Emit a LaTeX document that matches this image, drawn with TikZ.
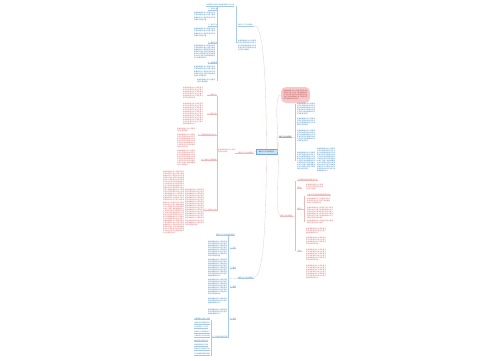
\documentclass[tikz,border=0pt]{standalone}
\usepackage{fontspec}
\newfontfamily\cjk{Noto Sans CJK SC}
\XeTeXlinebreaklocale "zh"
\XeTeXlinebreakskip=0pt plus 0.2pt
\definecolor{tb}{HTML}{3D85C6}
\definecolor{tr}{HTML}{E06666}
\definecolor{td}{HTML}{3C4A5C}
\definecolor{lb}{HTML}{A9CBEA}
\definecolor{lr}{HTML}{F2B8B8}
\definecolor{lm}{HTML}{E8CDCD}
\definecolor{cfill}{HTML}{CFE2F3}
\definecolor{cdraw}{HTML}{6FA8DC}
\definecolor{pfill}{HTML}{F6CACA}
\newcommand\zhc[1]{\ifcase#1 工\or 作\or 学\or 生\or 教\or 育\or 积\or 极\or 认\or 真\or 开\or 展\or 活\or 动\or 提\or 高\or 质\or 量\or 的\or 和\or 班\or 级\or 管\or 理\fi}
\newcommand\mkfill[1]{\gdef\fillstr{}\foreach \ii in {1,...,#1}{\pgfmathtruncatemacro\kk{mod(\ii*7,24)}\xdef\fillstr{\fillstr\zhc{\kk}}}}
\tikzset{
  blkst/.style={inner sep=0pt,font=\cjk\fontsize{2.2}{2.9}\selectfont,align=justify},
  labst/.style={inner sep=0.2pt,font=\cjk\fontsize{2.2}{2.9}\selectfont},
  cnode/.style={draw=cdraw,fill=cfill,line width=0.3pt,minimum width=10.5mm,minimum height=2.6mm,inner sep=0pt,text=td,font=\cjk\fontsize{2.2}{2.9}\selectfont},
  pnode/.style={fill=pfill,rounded corners=2.5mm,minimum width=14.5mm,minimum height=8mm,inner sep=0pt,text=tr!80!black,text width=34pt,align=justify,font=\cjk\fontsize{2.2}{2.9}\selectfont},
  mc/.style={draw=lm,line width=0.45pt},
  bl/.style={draw=lb,line width=0.3pt},
  rl/.style={draw=lr,line width=0.3pt}
}
\newcommand\blk[6][tb]{%
  \pgfmathtruncatemacro\ncpl{#5*0.64}%
  \pgfmathtruncatemacro\nln{max(1,round(#6*0.49))}%
  \pgfmathtruncatemacro\nch{max(2,\ncpl*\nln-\ncpl/3)}%
  \mkfill{\nch}%
  \pgfmathsetmacro\tw{#5*1.4226}%
  \node[blkst,text=#1,text width=\tw pt,anchor=north west] (#2) at (#3,#4) {\fillstr};%
}
\newcommand\lab[5][tb]{%
  \node[labst,text=#1,anchor=base west] (#2) at (#3,#4) {#5};%
  \draw[#1!45,line width=0.25pt] (#2.south west) -- (#2.south east);%
}
\begin{document}
\begin{tikzpicture}[x=0.5mm,y=-0.5mm]
\fill[white] (0,0) rectangle (500,360);
\useasboundingbox (0,0) rectangle (500,360);

% centre
\node[cnode] (C) at (266.5,151.5) {教师个人工作总结范文};

% main labels
\lab{M1}{238}{26}{教师个人工作总结篇一}
\lab[tr]{M2}{238}{153}{教师个人工作总结篇二}
\lab{M3}{238}{278}{教师个人工作总结篇三}
\lab[td]{M5}{279}{137}{教师工作总结篇四}
\lab[tr]{M6}{280}{216}{教师工作总结篇五}
\mkfill{70}
\node[pnode] (P) at (295.5,95) {\fillstr};

% main curves
\draw[mc] (C.north) .. controls (266,60) and (262,25) .. (M1.east);
\draw[mc] (C.west) -- (M2.east);
\draw[mc] (C.south) .. controls (266,240) and (262,277) .. (M3.east);
\draw[mc] (C.east) .. controls (281,151.5) and (272,95) .. (P.west);
\draw[mc] (C.east) .. controls (280,151.5) and (274,136) .. (M5.west);
\draw[mc] (C.east) .. controls (281,151.5) and (274,215) .. (M6.west);

% ---------- branch 1 (blue, top left)
\lab{H1}{206}{5.5}{本学期我认真执行学校教育教学工作计划}
\coordinate (m1t) at (236,6.5);
\coordinate (m1b) at (236,42);
\coordinate (m1j) at (236,26.5);
\draw[bl] (m1t) -- (m1b);
\draw[bl] (M1.south west) -- (m1j);
\blk{b1}{238}{40.5}{18}{10}
\draw[bl] (m1b) -- (b1.west |- m1b);
\coordinate (v1t) at (217,6.5);
\coordinate (v1b) at (217,81);
\draw[bl] (v1t) -- (v1b);
\lab{la}{207.5}{10}{一、思想方面}
\lab{lb1}{207.5}{26}{二、教学工作}
\lab{lc}{207.5}{43}{三、教研工作}
\lab{ld}{207.5}{63}{四、班级管理}
\blk{ba}{194}{12.5}{21}{9}
\blk{bb}{194}{28.5}{21}{9}
\blk{bc}{194}{45}{21}{15}
\blk{bd}{194}{66.5}{21}{10}
\blk{be}{197}{79.5}{18}{4.5}

% ---------- branch 2 (red, left middle)
\blk[tr]{r0}{218}{149.5}{17}{5}
\coordinate (r0t) at (217,95.8);
\coordinate (r0b) at (217,210.8);
\draw[rl] (r0t) -- (r0b);
\draw[rl] (M2.south west) -- (r0.east |- M2.south west);
\lab[tr]{r1}{207}{95}{一、思想认识}
\lab[tr]{r2}{207}{114}{二、教学工作}
\lab[tr]{r3}{197.5}{135}{三、不断提高自身业务水平}
\lab[tr]{r4}{201}{160}{四、加强学习提高素质}
\lab[tr]{r5}{204}{210}{五、今后努力方向}
\blk[tr]{ra}{183}{87}{20}{12}
\blk[tr]{rb}{183}{103}{20}{22}
\blk[tr]{rch}{177}{128.5}{18}{3.5}
\blk[tr]{rc}{177}{134}{18}{14}
\blk[tr]{rd}{177}{150}{18}{17}
\blk[tr]{re1}{163}{171}{21}{64}
\blk[tr]{re2}{185}{189}{19}{37}

% ---------- branch 3 (blue, bottom left)
\lab{H3}{216}{235}{教师个人工作总结范文精选}
\coordinate (m3t) at (228,236);
\coordinate (m3b) at (228,338);
\coordinate (m3j) at (228,278.8);
\draw[bl] (m3t) -- (m3b);
\draw[bl] (M3.south west) -- (m3j);
\lab{l3a}{229.5}{248}{一、学习}
\lab{l3b}{229.5}{268}{二、教学}
\lab{l3c}{229.5}{287}{三、教研}
\lab{l3d}{229.5}{319}{四、其他}
\lab{l3e}{212}{337}{五、存在的问题与不足}
\blk{b3a}{208}{241}{19}{16}
\blk{b3b}{208}{259}{19}{18}
\blk{b3c}{208}{279}{19}{16}
\blk{b3d}{208}{298}{19}{7}
\blk{b3e}{208}{309}{19}{7}
\coordinate (lt) at (211,319.5);
\coordinate (lbt) at (211,355.5);
\draw[bl] (lt) -- (lbt);
\foreach \c/\t in {1/认真备课上好每一节课,2/积极参加各项教研活动,3/关心爱护每一个学生,4/加强学习不断提高自己,5/认真批改作业及时反馈,6/做好后进生转化工作,7/加强家校联系与沟通,8/积极参与学校各项工作,9/努力提高教育教学质量}{
  \pgfmathsetmacro\yy{314.6+4.4*\c}
  \lab{li\c}{194}{\yy}{\t}
}

% ---------- branch 5 (right, blue)
\coordinate (m5t) at (295,104);
\coordinate (m5b) at (295,161);
\coordinate (m5j) at (295,137.8);
\draw[bl] (m5t) -- (m5b);
\draw[bl] (M5.south east) -- (m5j);
\blk{g1}{297}{103}{18}{13}
\blk{g2}{297}{118}{18}{8}
\blk{g3}{297}{130}{18}{12}
\blk{g4}{297}{152}{18}{18}
\blk{g5}{317}{148}{18}{25}
\draw[bl] (g4.east) -- (g5.west);

% ---------- branch 6 (right, red)
\coordinate (m6t) at (295,181);
\coordinate (m6b) at (295,251);
\coordinate (m6j) at (295,216.8);
\draw[rl] (m6t) -- (m6b);
\draw[rl] (M6.south east) -- (m6j);
\lab[tr]{h6}{297}{180}{一学期来我始终坚持教学工作}
\lab[tr]{s6a}{297}{188}{思想上}
\blk[tr]{s1}{306}{184}{17}{7}
\lab[tr]{s6b}{297}{209}{教学上}
\coordinate (s6t) at (304.5,196);
\coordinate (s6bb) at (304.5,222);
\draw[rl] (s6t) -- (s6bb);
\draw[rl] (s6b.south east) -- (s6b.south east -| s6t);
\lab[tr]{t6}{307}{195}{认真学习新课标提高课堂教学效率}
\blk[tr]{s2}{307}{198}{23}{6}
\blk[tr]{s3}{307}{207}{26}{12}
\blk[tr]{s4}{307}{220}{26}{5}
\blk[tr]{s5}{306}{228}{20}{7}
\blk[tr]{s6}{306}{237}{20}{8}
\lab[tr]{s6c}{297}{251}{工作上}
\blk[tr]{s7}{306}{249}{20}{13}
\blk[tr]{s8}{306}{265}{20}{14}
\end{tikzpicture}
\end{document}
